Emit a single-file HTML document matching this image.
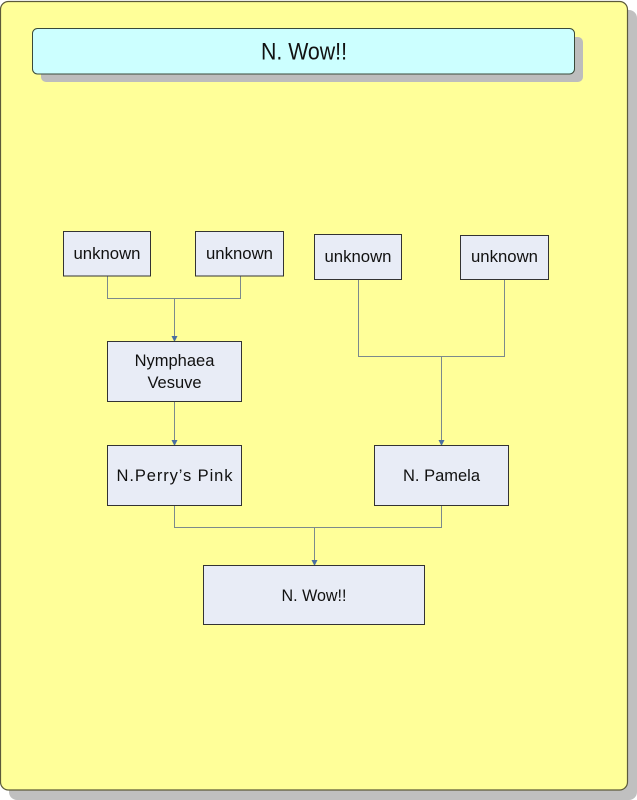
<!DOCTYPE html>
<html><head><meta charset="utf-8"><style>
html,body{margin:0;padding:0;background:#fff;}
body{width:637px;height:800px;overflow:hidden;position:relative;}
svg{position:absolute;left:0;top:0;}
text{font-family:"Liberation Sans","Noto Sans CJK JP",sans-serif;fill:#111;}
</style></head><body>
<svg width="637" height="800" viewBox="0 0 637 800" xmlns="http://www.w3.org/2000/svg">
  <!-- outer panel shadow -->
  <rect x="9" y="10" width="628" height="790" rx="8" fill="#c0c0c0"/>
  <!-- outer panel -->
  <rect x="0.5" y="1.5" width="627" height="788.5" rx="8" fill="#ffff99" stroke="#5c5a3a" stroke-width="1.2"/>
  <!-- title shadow -->
  <rect x="41" y="37" width="542" height="45" rx="5" fill="#bdbdbd"/>
  <!-- title -->
  <rect x="32.5" y="28.5" width="542" height="45.5" rx="5" fill="#ccffff" stroke="#3a4a3a" stroke-width="1"/>
  <text x="304" y="59.5" font-size="24" text-anchor="middle" textLength="86" lengthAdjust="spacingAndGlyphs">N. Wow!!</text>

  <!-- connectors -->
  <g fill="none" stroke="#7c8a8c" stroke-width="1">
    <path d="M107.5 276 V298.5 H240.5 V276"/>
    <path d="M174.5 298.5 V337"/>
    <path d="M174.5 402 V441"/>
    <path d="M358.5 279 V356.5 H504.5 V279"/>
    <path d="M441.5 356.5 V441"/>
    <path d="M174.5 505 V527.5 H441.5 V505"/>
    <path d="M314.5 527.5 V561"/>
  </g>
  <g fill="#4a6fa0">
    <path d="M171.5 336 L177.5 336 L174.5 342 Z"/>
    <path d="M171.5 440 L177.5 440 L174.5 446 Z"/>
    <path d="M438.5 440 L444.5 440 L441.5 446 Z"/>
    <path d="M311.5 560 L317.5 560 L314.5 566 Z"/>
  </g>

  <!-- boxes -->
  <g fill="#e8ecf6" stroke="#333" stroke-width="1">
    <rect x="63.5" y="231.5" width="87" height="44.5"/>
    <rect x="195.5" y="231.5" width="88" height="44.5"/>
    <rect x="314.5" y="234.5" width="87" height="45"/>
    <rect x="460.5" y="235.5" width="88" height="44"/>
    <rect x="107.5" y="341.5" width="134" height="60"/>
    <rect x="107.5" y="445.5" width="134" height="60"/>
    <rect x="374.5" y="445.5" width="134" height="60"/>
    <rect x="203.5" y="565.5" width="221" height="59"/>
  </g>
  <g font-size="16.5" text-anchor="middle">
    <text x="107" y="259" textLength="67" lengthAdjust="spacingAndGlyphs">unknown</text>
    <text x="239.5" y="259" textLength="67" lengthAdjust="spacingAndGlyphs">unknown</text>
    <text x="358" y="262" textLength="67" lengthAdjust="spacingAndGlyphs">unknown</text>
    <text x="504.5" y="262" textLength="67" lengthAdjust="spacingAndGlyphs">unknown</text>
    <text x="174.5" y="366">Nymphaea</text>
    <text x="174.5" y="388">Vesuve</text>
    <text x="174.5" y="481" textLength="116" lengthAdjust="spacing">N.Perry’s Pink</text>
    <text x="441.5" y="481" textLength="77" lengthAdjust="spacingAndGlyphs">N. Pamela</text>
    <text x="314" y="601" textLength="65" lengthAdjust="spacingAndGlyphs">N. Wow!!</text>
  </g>
</svg>
</body></html>
